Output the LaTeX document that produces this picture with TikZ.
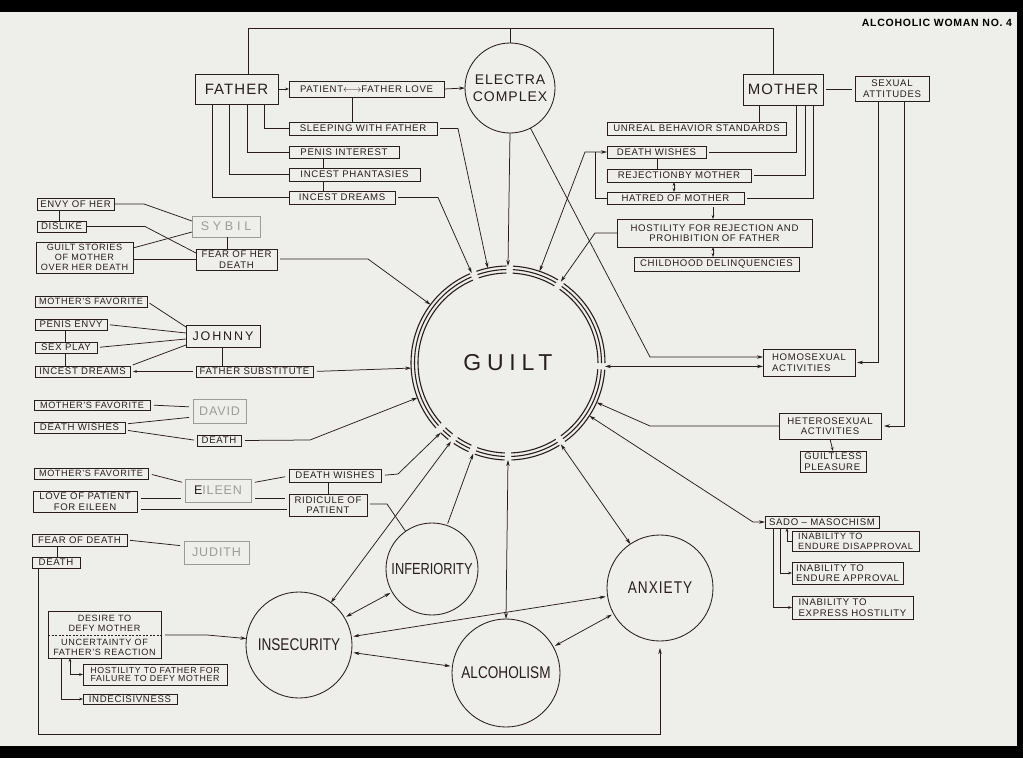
\documentclass[tikz,border=0pt]{standalone}
\usepackage{fontspec}
\setmainfont{Liberation Sans}[LetterSpace=7]
\newfontfamily\circfont{Liberation Sans}[FakeStretch=0.8]
\newfontfamily\widefont{Liberation Sans}[LetterSpace=25]
\usetikzlibrary{arrows.meta,calc}
\definecolor{ink}{RGB}{40,30,30}
\definecolor{paper}{RGB}{238,238,235}
\definecolor{faint}{RGB}{155,155,155}
\newcommand\sm{\fontsize{9.6}{10.5}\selectfont}
\newcommand\smm{\fontsize{9.1}{9.9}\selectfont}
\newcommand\bigf{\fontsize{15}{16}\selectfont}
\newcommand\elf{\fontsize{14}{17}\selectfont}
\newcommand\gf{\fontsize{12.5}{14}\selectfont}
\newcommand\bx[7][]{\node[tbox,minimum width={(#5)-(#3)},minimum height={(#6)-(#4)},#1] (#2) at ({((#3)+(#5))/2},{((#4)+(#6))/2}) {#7};}
\begin{document}
\begin{tikzpicture}[x=1pt,y=-1pt,line width=0.75pt,draw=ink,text=ink,
  tbox/.style={draw=ink,line width=0.85pt,inner sep=0pt,outer sep=0pt,align=center,font=\sm,text=ink},
  gbox/.style={tbox,draw=faint,text=faint,font=\gf},
  circ/.style={circle,draw=ink,line width=0.85pt,inner sep=0pt,outer sep=0pt,font=\circfont\fontsize{17}{19}\selectfont},
  arr/.style={-{Stealth[length=6pt,width=3.5pt]}},
  darr/.style={{Stealth[length=6pt,width=3.5pt]}-{Stealth[length=6pt,width=3.5pt]}},
  arrs/.style={-{Stealth[length=4pt,width=2.8pt]}},
  darrs/.style={{Stealth[length=4pt,width=2.8pt]}-{Stealth[length=4pt,width=2.8pt]}},
]
\useasboundingbox (0,0) rectangle (1023,758);
\fill[black] (0,0) rectangle (1023,758);
\fill[paper] (0,12) rectangle (1017,746);

\node[font=\bfseries\fontsize{10.5}{12}\selectfont,text=black] (title) at (937,23) {ALCOHOLIC WOMAN NO. 4};

% ---------- GUILT ----------
\node[circle,minimum size=194,inner sep=0pt,outer sep=0pt,font=\widefont\fontsize{23}{25}\selectfont] (guilt) at (508,363) {GUILT};
\foreach \a/\b in {-134/-128,-124/-114,-110/-92,-88/-58,-54/-4,0/55,59/87,91/109,113/222}
  \foreach \r in {97,93.5,90}
    \draw[line width=1.1pt] (guilt.center) ++(\a:\r pt) arc[start angle=\a,end angle=\b,radius=\r pt];

% ---------- top: father / electra / mother ----------
\bx[font=\bigf]{father}{195}{74}{278}{104}{FATHER}
\node[circ,minimum size=90,font=\elf,align=center] (electra) at (510,88) {ELECTRA\\COMPLEX};
\bx{ptf}{289}{81}{444}{97}{PATIENT$\longleftrightarrow$FATHER LOVE}
\bx{sleep}{289}{122}{437}{135}{SLEEPING WITH FATHER}
\bx{penis}{289}{146}{399}{158}{PENIS INTEREST}
\bx{phant}{289}{168}{420}{181}{INCEST PHANTASIES}
\bx{idream}{289}{191}{395}{204}{INCEST DREAMS}

\bx[font=\bigf]{mother}{743}{74}{823}{105}{MOTHER}
\bx{sexatt}{855}{76}{929}{101}{SEXUAL\\ATTITUDES}
\bx{unreal}{607}{122}{786}{135}{UNREAL BEHAVIOR STANDARDS}
\bx{mdw}{607}{146}{706}{158}{DEATH WISHES}
\bx{rej}{607}{169}{751}{182}{REJECTIONBY MOTHER}
\bx{hatred}{607}{192}{744}{204}{HATRED OF MOTHER}
\bx{host}{617}{219}{812}{247}{HOSTILITY FOR REJECTION AND\\PROHIBITION OF FATHER}
\bx{child}{634}{257}{799}{271}{CHILDHOOD DELINQUENCIES}

\coordinate (topL) at (248,28);
\coordinate (topR) at (773,28);
\draw (father.north -| topL) -- (topL) -- (topR) -- (mother.north -| topR);
\draw (electra.north) -- (electra.north |- topL);

\draw[arrs] (father.east) -- (ptf.west);
\draw[arr] (ptf.east) -- (electra.west);
\draw (ptf.south -| 352,0) -- (sleep.north -| 352,0);
\draw (father.south -| 264,0) |- (sleep.west);
\draw (father.south -| 247,0) |- (penis.west);
\draw (father.south -| 229,0) |- (phant.west);
\draw (father.south -| 212,0) |- (idream.west);
\draw (penis.south -| 323,0) -- (phant.north -| 323,0);
\draw (phant.south -| 323,0) -- (idream.north -| 323,0);
\draw[arr,shorten <=3pt] (sleep.east) -- ++(21,0) -- (guilt.102);
\draw[arr,shorten <=3pt] (idream.east) -- ++(43,0) -- (guilt.112);
\draw[arr] (electra.south) -- (guilt.90);

\draw (mother.south -| 759,0) -- (unreal.north -| 759,0);
\draw (mother.south -| 796,0) |- ([xshift=3pt]mdw.east);
\draw (mother.south -| 805,0) |- ([xshift=3pt]rej.east);
\draw (mother.south -| 813,0) |- ([xshift=3pt]hatred.east);
\draw (mdw.south -| 657,0) -- (rej.north -| 657,0);
\draw[darrs] (rej.south -| 674,0) -- (hatred.north -| 674,0);
\draw[arrs,shorten <=3pt] (hatred.south -| 713,0) -- (host.north -| 713,0);
\draw[darrs] (host.south -| 713,0) -- (child.north -| 713,0);
\draw[shorten <=3pt,shorten >=3pt] (mother.east) -- (sexatt.west |- mother.east);
\coordinate (dwc) at (585,152);
\draw[darr] (guilt.71) -- (dwc) -- (mdw.west);
\draw (dwc -| 595,0) |- (hatred.west);
\coordinate (hc) at (595,233);
\draw[arr] (host.west) -- (hc) -- (guilt.57);

% ---------- right side ----------
\bx[align=left]{homo}{763}{349}{855}{376}{HOMOSEXUAL\\ACTIVITIES}
\bx{hetero}{779}{413}{881}{439}{HETEROSEXUAL\\ACTIVITIES}
\bx[align=left]{guiltless}{800}{451}{866}{472}{GUILTLESS\\PLEASURE}
\bx{sado}{765}{516}{879}{528}{SADO -- MASOCHISM}
\bx[align=left,font=\smm]{dis}{792}{531}{919}{551}{INABILITY TO\\ENDURE DISAPPROVAL}
\bx[align=left]{endapp}{792}{562}{903}{584}{INABILITY TO\\ENDURE APPROVAL}
\bx[align=left]{exh}{792}{596}{913}{619}{INABILITY TO\\EXPRESS HOSTILITY}

\coordinate (eh) at (650,357);
\draw[arr] (electra.-63) -- (eh) -- (eh -| homo.west);
\draw[darr] (guilt.-2) -- (guilt.-2 -| homo.west);
\draw[arr] (sexatt.south -| 878,0) |- ([xshift=2pt]homo.east);
\draw[arr] (sexatt.south -| 904,0) |- ([xshift=3pt]hetero.east);
\draw[arrs] (hetero.south) -- (guiltless.north);
\coordinate (htc) at (650,426);
\draw[arr] (hetero.west) -- (htc) -- (guilt.-24);
\coordinate (sdc) at (753,522);
\draw[darr] (guilt.-33) -- (sdc) -- (sado.west);
\draw[arrs] (sado.south -| 773,0) |- (exh.west);
\draw[arrs] (sado.south -| 780,0) |- (endapp.west);
\draw[arrs] (dis.west) -| (sado.south -| 787,0);

% ---------- SYBIL ----------
\bx[gbox]{sybil}{192}{216}{260}{237}{\addfontfeature{LetterSpace=30}SYBIL}
\bx{envy}{37}{198}{114}{210}{ENVY OF HER}
\bx{dislike}{37}{221}{86}{232}{DISLIKE}
\bx[font=\smm]{gstories}{36}{242}{133}{273}{GUILT STORIES\\OF MOTHER\\OVER HER DEATH}
\bx{fearher}{196}{249}{277}{270}{FEAR OF HER\\DEATH}
\draw (envy.east) -- ++(30,0) -- (sybil.west |- 0,221);
\draw (dislike.east) -- ++(59,0) -- (fearher.west |- 0,253);
\draw (gstories.east |- 0,248) -- (sybil.west |- 0,232);
\draw (gstories.east |- 0,259) -- (fearher.west |- 0,259);
\draw (envy.south -| 59,0) -- (dislike.north -| 59,0);
\draw (sybil.south -| 227,0) -- (fearher.north -| 227,0);
\draw[arr,shorten <=3pt] (fearher.east |- 0,259) -- (368,259) -- (guilt.143);

% ---------- JOHNNY ----------
\bx[font=\gf]{johnny}{186}{325}{260}{347}{\addfontfeature{LetterSpace=15}JOHNNY}
\bx[font=\smm]{jmf}{35}{296}{147}{307}{MOTHER'S FAVORITE}
\bx{penv}{35}{319}{107}{330}{PENIS ENVY}
\bx{sexplay}{35}{342}{97}{353}{SEX PLAY}
\bx{jid}{35}{366}{130}{377}{INCEST DREAMS}
\bx{fsub}{196}{366}{313}{377}{FATHER SUBSTITUTE}
\draw[shorten <=3pt] (jmf.east) -- (johnny.west |- 0,327);
\draw[shorten <=3pt] (penv.east) -- (johnny.west |- 0,333);
\draw[shorten <=3pt] (sexplay.east) -- (johnny.west |- 0,339);
\draw[shorten <=3pt] (jid.north east) -- (johnny.west |- 0,345);
\draw (penv.south -| 65,0) -- (sexplay.north -| 65,0);
\draw (sexplay.south -| 65,0) -- (jid.north -| 65,0);
\draw (johnny.south -| 222,0) -- (fsub.north -| 222,0);
\draw[arrs,shorten <=3pt,shorten >=3pt] (fsub.west) -- (jid.east);
\draw[arr,shorten <=4pt] (fsub.east) -- (guilt.183);

% ---------- DAVID ----------
\bx[gbox]{david}{193}{399}{246}{423}{DAVID}
\bx[font=\smm]{dmf}{34}{400}{150}{410}{MOTHER'S FAVORITE}
\bx{ddw}{34}{422}{125}{433}{DEATH WISHES}
\bx{ddeath}{197}{435}{241}{446}{DEATH}
\draw[shorten <=4pt,shorten >=4pt] (dmf.east) -- (david.west |- 0,407);
\draw[shorten <=3pt,shorten >=4pt] (ddw.east |- 0,424) -- (david.west |- 0,417);
\draw[shorten <=3pt,shorten >=3pt] (ddw.east |- 0,430) -- (ddeath.west);
\draw[arr,shorten <=4pt] (ddeath.east) -- (310,440) -- (guilt.201);

% ---------- EILEEN ----------
\bx[gbox]{eileen}{185}{479}{251}{502}{{\color{ink}E}ILEEN}
\bx[font=\smm]{emf}{34}{468}{148}{479}{MOTHER'S FAVORITE}
\bx{love}{33}{491}{137}{512}{LOVE OF PATIENT\\FOR EILEEN}
\bx{edw}{289}{469}{381}{482}{DEATH WISHES}
\bx{ridic}{289}{494}{367}{516}{RIDICULE OF\\PATIENT}
\draw[shorten <=4pt,shorten >=3pt] (emf.east) -- (eileen.west |- 0,483);
\draw[shorten <=4pt,shorten >=4pt] (love.east |- 0,498) -- (eileen.west |- 0,498);
\draw[shorten <=4pt,shorten >=2pt] (love.east |- 0,509) -- (ridic.west |- 0,509);
\draw[shorten <=4pt,shorten >=4pt] (eileen.east |- 0,483) -- (edw.west |- 0,476);
\draw[shorten <=4pt,shorten >=4pt] (eileen.east |- 0,498) -- (ridic.west |- 0,498);
\draw (edw.south -| 328,0) -- (ridic.north -| 328,0);
\draw[arr,shorten <=4pt] (edw.east) -- (398,474) -- (guilt.226);

% ---------- JUDITH ----------
\bx[gbox]{judith}{184}{541}{249}{564}{JUDITH}
\bx{jfd}{32}{534}{127}{546}{FEAR OF DEATH}
\bx{jdeath}{32}{557}{80}{568}{DEATH}
\draw[shorten <=3pt,shorten >=4pt] (jfd.east) -- (judith.west |- 0,546);
\draw (jfd.south -| 57,0) -- (jdeath.north -| 57,0);

% ---------- desire block ----------
\bx{desire}{48}{611}{161}{658}{}
\node[font=\smm,align=center,inner sep=0pt] (desireA) at (104.5,623) {DESIRE TO\\DEFY MOTHER};
\node[font=\smm,align=center,inner sep=0pt] (desireB) at (104.5,647) {UNCERTAINTY OF\\FATHER'S REACTION};
\draw[dashed,dash pattern=on 2pt off 1.5pt,line width=0.5pt] (desire.west |- 0,635) -- (desire.east |- 0,635);
\bx[font=\fontsize{8.8}{8.9}\selectfont]{hostf}{83}{664}{227}{685}{HOSTILITY TO FATHER FOR\\FAILURE TO DEFY MOTHER}
\bx{indec}{83}{694}{177}{704}{INDECISIVNESS}
\draw[arrs] (desire.south -| 61,0) |- (indec.west);
\draw[darrs] (desire.south -| 70,0) |- (hostf.west);

% ---------- bottom circles ----------
\node[circ,minimum size=106] (insec) at (299,645) {INSECURITY};
\node[circ,minimum size=92,font=\circfont\fontsize{16}{18}\selectfont] (infer) at (432,569) {INFERIORITY};
\node[circ,minimum size=108] (alco) at (506,673) {ALCOHOLISM};
\node[circ,minimum size=106] (anx) at (660,588) {\addfontfeature{LetterSpace=6}ANXIETY};

\draw[shorten <=3pt] (ridic.east |- 0,504) -- (387,504) -- (infer.125);
\draw[arr,shorten <=4pt] (desire.east |- 0,635) -- (207,635) -- (insec.173);
\draw[arr] (jdeath.south -| 38,0) -- (38,734) -| ([yshift=-7pt]anx.south);

\draw[darr] (guilt.-126) -- (insec.53);
\draw[arr,shorten <=2pt] (infer.71) -- (guilt.-111);
\draw[darr] (guilt.-90) -- (alco.north);
\draw[darr] (guilt.-57) -- (anx.124);
\draw[darr,shorten <=2pt,shorten >=2pt] (insec.31) -- (infer.210);
\draw[darr,shorten <=2pt,shorten >=2pt] (insec.9) -- (anx.189);
\draw[darr,shorten <=2pt,shorten >=2pt] (insec.-8) -- (alco.173);
\draw[darr,shorten <=2pt,shorten >=2pt] (alco.29) -- (anx.209);
\end{tikzpicture}
\end{document}
